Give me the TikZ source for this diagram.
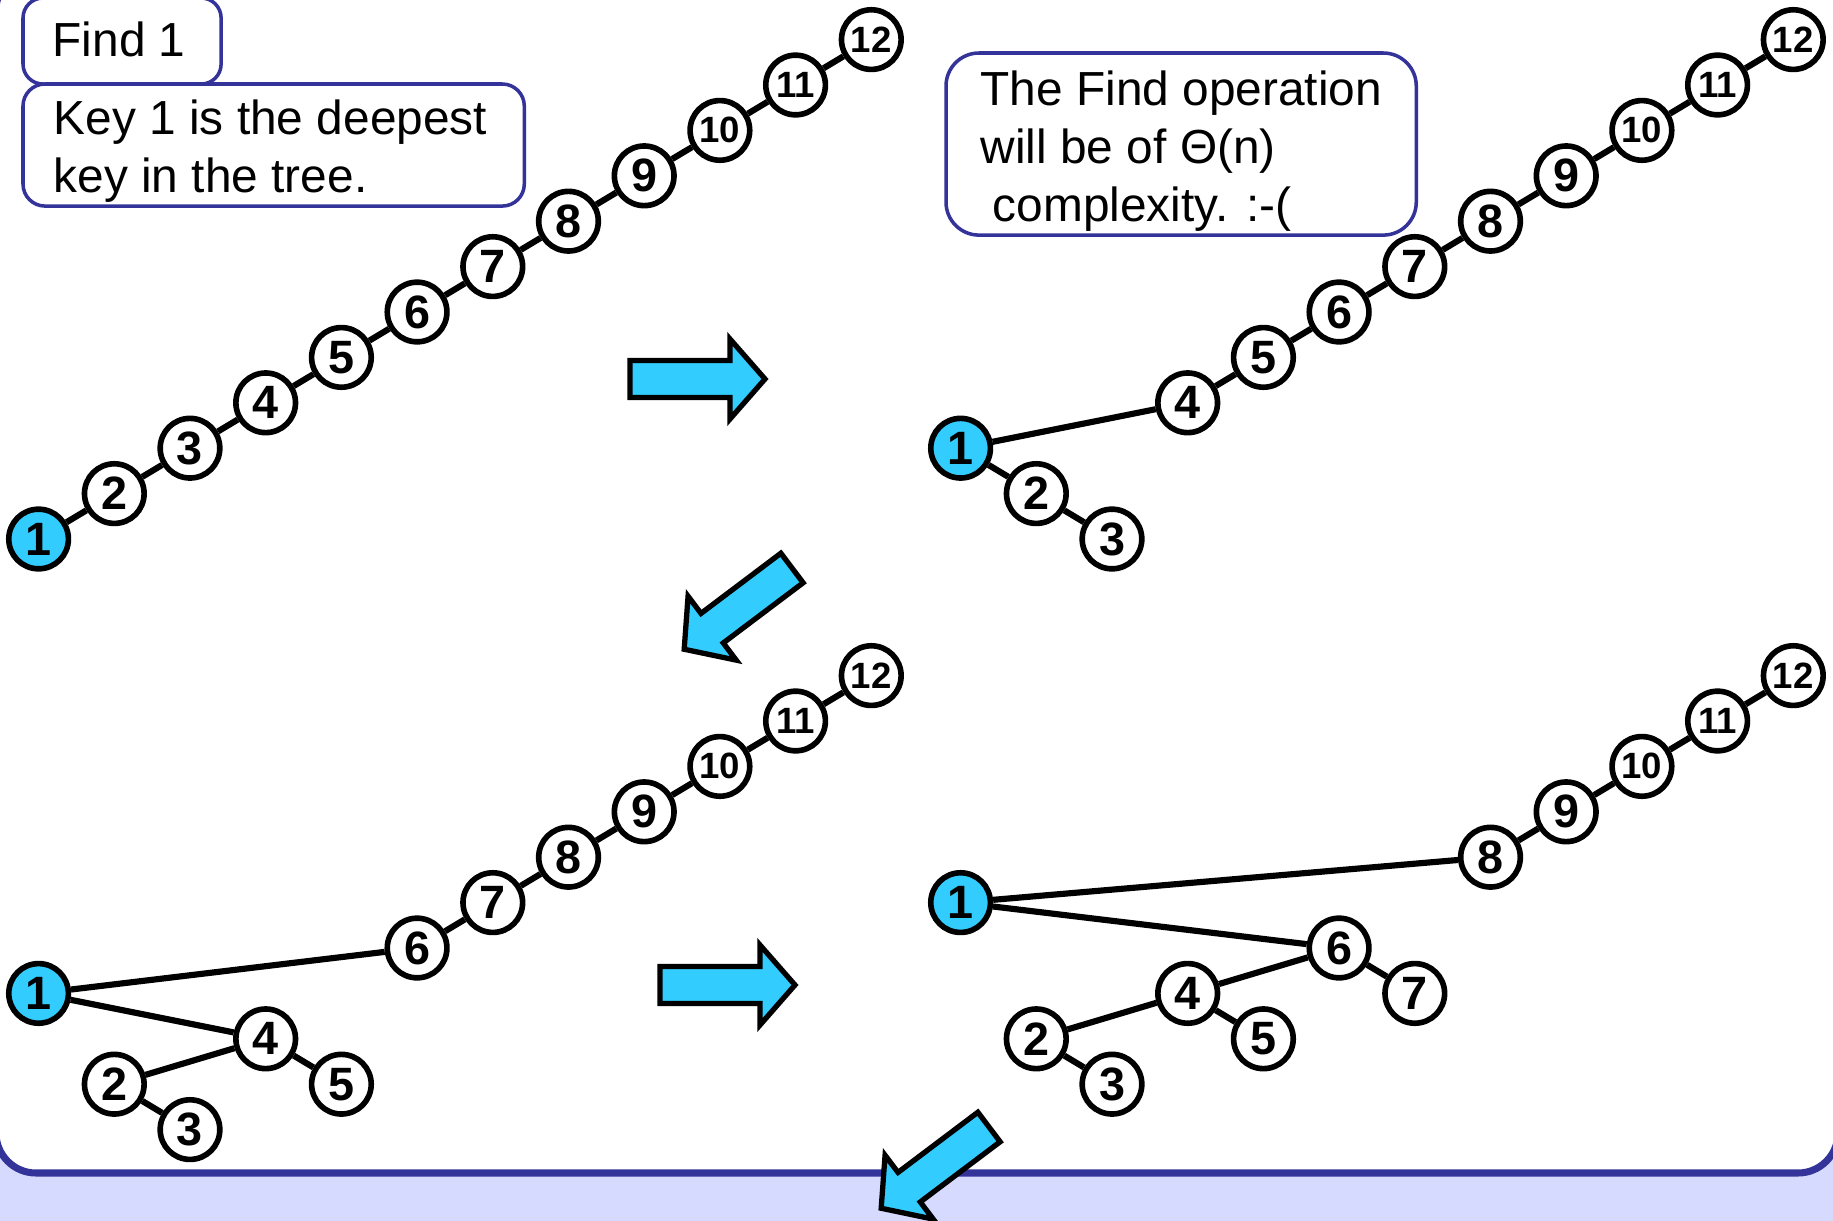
\documentclass[tikz,border=0pt]{standalone}
\usepackage{fontspec}
\setmainfont{Liberation Sans}
\definecolor{keycyan}{RGB}{51,204,255}
\definecolor{frameblue}{RGB}{51,51,153}
\definecolor{lavender}{RGB}{214,218,255}
% two-digit keys are set a little smaller so they fit in the circle
\newcommand\keytext[1]{\ifnum#1>9 \fontsize{10.4}{10.4}\selectfont\fi #1}
\begin{document}
\begin{tikzpicture}[x=0.01cm,y=-0.01cm,
  keynode/.style={circle,draw=black,line width=1.6pt,minimum size=0.596cm,
    inner sep=0pt,font=\fontsize{13.3}{13.3}\selectfont\bfseries},
  link/.style={line width=1.75pt},
  notebox/.style={draw=frameblue,line width=1pt,fill=white,inner sep=0pt,
    outer sep=0pt,anchor=north west},
  notetext/.style={anchor=base west,inner sep=0pt,font=\fontsize{13.6}{13.6}\selectfont},
  blockarrow/.style={draw=black,fill=keycyan,line width=1.5pt,line join=miter,miter limit=10}]

\useasboundingbox (0,0) rectangle (1833,1221);
\fill[lavender] (0,0) rectangle (1833,1221);
\draw[frameblue,line width=2pt,fill=white,rounded corners=0.4cm] (-4,-30) rectangle (1838,1173);

% text boxes
\node[notebox,rounded corners=0.2cm,minimum width=1.98cm,minimum height=0.86cm] (findbox) at (23,-2) {};
\node[notebox,rounded corners=0.22cm,minimum width=5.01cm,minimum height=1.22cm] (keybox) at (23,84) {};
\node[notebox,rounded corners=0.33cm,minimum width=4.70cm,minimum height=1.82cm] (thetabox) at (946,53) {};
\node[notetext] (findtxt) at (52,57) {Find 1};
\node[notetext] (keyline1) at (53,134) {Key 1 is the deepest};
\node[notetext] (keyline2) at (53,192) {key in the tree.};
\node[notetext] (thetaline1) at (980,105) {The Find operation};
\node[notetext] (thetaline2) at (980,163) {will be of Θ(n)};
\node[notetext] (thetaline3) at (992,221) {complexity. :-(};

% block arrows between the stages
\draw[blockarrow,shift={(630,379)}] (0,-18.5) -- (100,-18.5) -- (100,-40) -- (135,0) -- (100,40) -- (100,18.5) -- (0,18.5) -- cycle;
\draw[blockarrow,shift={(792,568)},rotate=217] (0,-18.5) -- (100,-18.5) -- (100,-40) -- (135,0) -- (100,40) -- (100,18.5) -- (0,18.5) -- cycle;
\draw[blockarrow,shift={(660,985)}] (0,-18.5) -- (100,-18.5) -- (100,-40) -- (135,0) -- (100,40) -- (100,18.5) -- (0,18.5) -- cycle;
\draw[blockarrow,shift={(989,1127)},rotate=217] (0,-18.5) -- (100,-18.5) -- (100,-40) -- (135,0) -- (100,40) -- (100,18.5) -- (0,18.5) -- cycle;

% stage 1: the degenerate chain
\foreach \k/\c/\r/\f in {1/0/0/keycyan,2/1/1/white,3/2/2/white,4/3/3/white,5/4/4/white,6/5/5/white,
    7/6/6/white,8/7/7/white,9/8/8/white,10/9/9/white,11/10/10/white,12/11/11/white}
  \node[keynode,fill=\f] (a\k) at ({38.6+75.7*\c},{539-45.4*\r}) {\keytext{\k}};
\foreach \u/\v in {1/2,2/3,3/4,4/5,5/6,6/7,7/8,8/9,9/10,10/11,11/12}
  \draw[link] (a\u) -- (a\v);

% stage 2
\foreach \k/\c/\r/\f in {1/0/2/keycyan,2/1/1/white,3/2/0/white,4/3/3/white,5/4/4/white,6/5/5/white,
    7/6/6/white,8/7/7/white,9/8/8/white,10/9/9/white,11/10/10/white,12/11/11/white}
  \node[keynode,fill=\f] (b\k) at ({922+38.6+75.7*\c},{539-45.4*\r}) {\keytext{\k}};
\foreach \u/\v in {1/2,2/3,1/4,4/5,5/6,6/7,7/8,8/9,9/10,10/11,11/12}
  \draw[link] (b\u) -- (b\v);

% stage 3
\foreach \k/\c/\r/\f in {1/0/4/keycyan,2/1/2/white,3/2/1/white,4/3/3/white,5/4/2/white,6/5/5/white,
    7/6/6/white,8/7/7/white,9/8/8/white,10/9/9/white,11/10/10/white,12/11/11/white}
  \node[keynode,fill=\f] (c\k) at ({38.6+75.7*\c},{636+539-45.4*\r}) {\keytext{\k}};
\foreach \u/\v in {1/6,1/4,4/2,2/3,4/5,6/7,7/8,8/9,9/10,10/11,11/12}
  \draw[link] (c\u) -- (c\v);

% stage 4
\foreach \k/\c/\r/\f in {1/0/6/keycyan,2/1/3/white,3/2/2/white,4/3/4/white,5/4/3/white,6/5/5/white,
    7/6/4/white,8/7/7/white,9/8/8/white,10/9/9/white,11/10/10/white,12/11/11/white}
  \node[keynode,fill=\f] (d\k) at ({922+38.6+75.7*\c},{636+539-45.4*\r}) {\keytext{\k}};
\foreach \u/\v in {1/8,1/6,6/4,6/7,4/2,4/5,2/3,8/9,9/10,10/11,11/12}
  \draw[link] (d\u) -- (d\v);
\end{tikzpicture}
\end{document}
